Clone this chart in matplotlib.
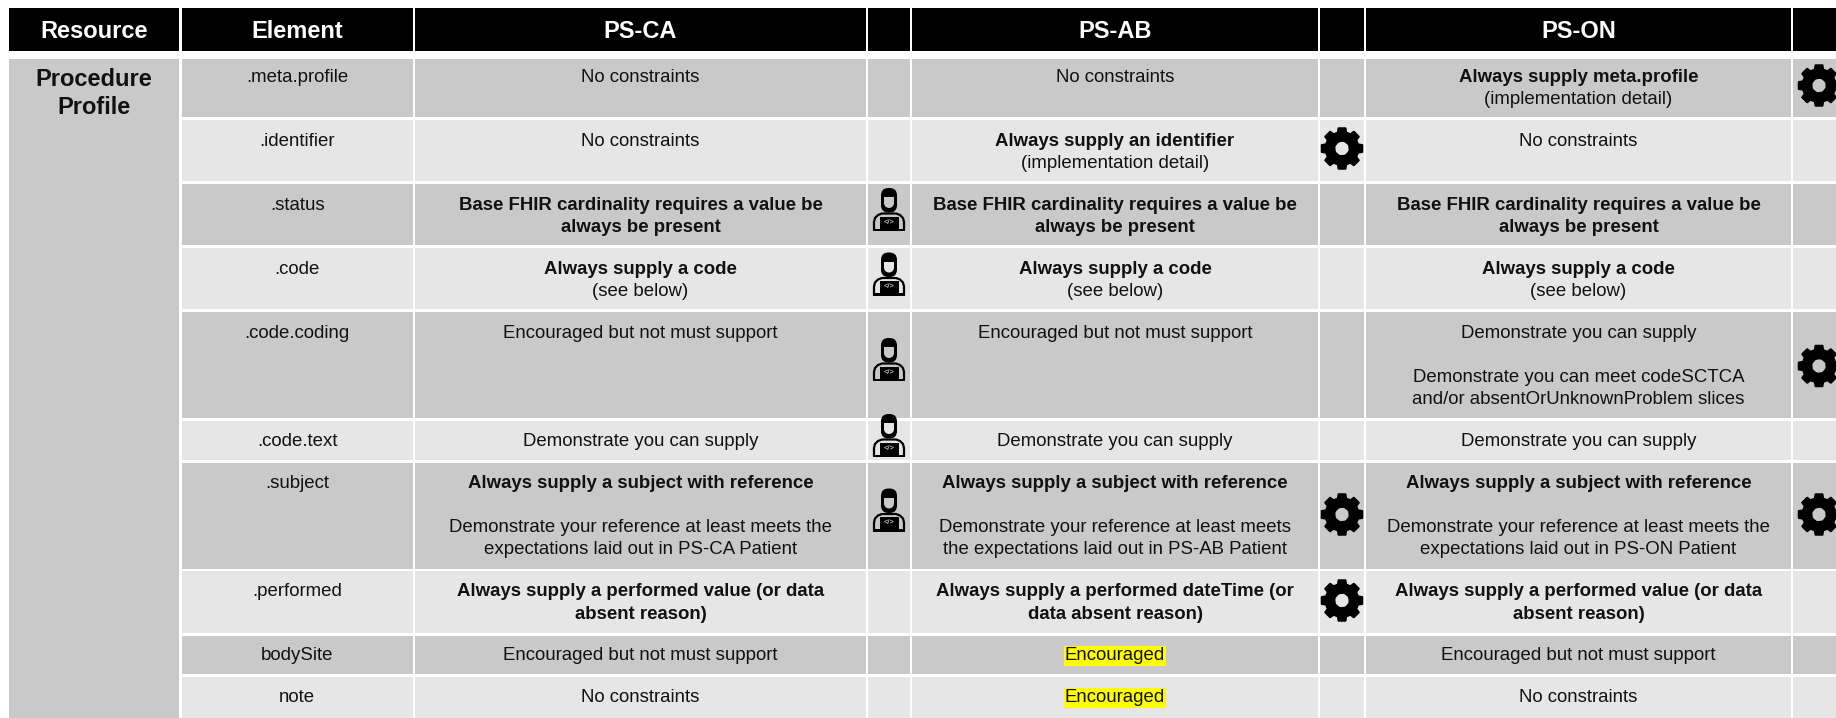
import matplotlib
matplotlib.use('Agg')
import matplotlib.pyplot as plt
from matplotlib.patches import Rectangle, Ellipse, FancyBboxPatch, PathPatch
from matplotlib.path import Path
import numpy as np

plt.rcParams['font.family'] = ['Liberation Sans', 'DejaVu Sans']

headers = ['Resource', 'Element', 'PS-CA', '', 'PS-AB', '', 'PS-ON', '']
resource = ['Procedure', 'Profile']
elements = ['.meta.profile', '.identifier', '.status', '.code', '.code.coding',
            '.code.text', '.subject', '.performed', 'bodySite', 'note']

NC = [('No constraints', 0)]
BASE = [('Base FHIR cardinality requires a value be', 1), ('always be present', 1)]
CODE = [('Always supply a code', 1), ('(see below)', 0)]
ENC = [('Encouraged but not must support', 0)]
DEMO = [('Demonstrate you can supply', 0)]
SUBJ = ('Always supply a subject with reference', 1)
BLANK = ('', 0)

ps_ca = [NC, NC, BASE, CODE, ENC, DEMO,
         [SUBJ, BLANK, ('Demonstrate your reference at least meets the', 0),
          ('expectations laid out in PS-CA Patient', 0)],
         [('Always supply a performed value (or data', 1), ('absent reason)', 1)],
         ENC, NC]
ps_ab = [NC,
         [('Always supply an identifier', 1), ('(implementation detail)', 0)],
         BASE, CODE, ENC, DEMO,
         [SUBJ, BLANK, ('Demonstrate your reference at least meets', 0),
          ('the expectations laid out in PS-AB Patient', 0)],
         [('Always supply a performed dateTime (or', 1), ('data absent reason)', 1)],
         [('Encouraged', 2)], [('Encouraged', 2)]]
ps_on = [[('Always supply meta.profile', 1), ('(implementation detail)', 0)],
         NC, BASE, CODE,
         [('Demonstrate you can supply', 0), BLANK,
          ('Demonstrate you can meet codeSCTCA', 0),
          ('and/or absentOrUnknownProblem slices', 0)],
         DEMO,
         [SUBJ, BLANK, ('Demonstrate your reference at least meets the', 0),
          ('expectations laid out in PS-ON Patient', 0)],
         [('Always supply a performed value (or data', 1), ('absent reason)', 1)],
         ENC, NC]

# rows that carry an icon in the narrow columns
person_rows = {2: 210, 3: 274.5, 4: 360, 5: 436, 6: 510.5}
gear_ab_rows = {1: 148.5, 6: 514.5, 7: 600.5}
gear_on_rows = {0: 85.5, 4: 366, 6: 514.5}

# layout in pixels
col_l = [9, 182, 415, 868, 912, 1320, 1366, 1793]
col_r = [179, 412.5, 866, 910, 1318, 1364, 1791, 1836]
row_t = [59, 120, 184, 248, 312, 421, 463, 571, 636, 677]
row_b = [117, 181, 245, 309, 418, 460, 569, 633, 674, 718]
first_line = [77, 141, 205, 269, 333, 441, 483, 592, 656, 698]
line_h = 22.2
dark = '#C9C9C9'
light = '#E6E6E6'
fs = 13.4
fs_head = 17

fig = plt.figure(figsize=(18.36, 7.18), dpi=100)
ax = fig.add_axes([0, 0, 1, 1])
ax.set_xlim(0, 1836)
ax.set_ylim(718, 0)
ax.axis('off')


def gear(cx, cy):
    r_out, r_in, r_hole = 20.5, 16.5, 7.6
    pts = []
    for i in range(8):
        a = -np.pi / 2 + i * np.pi / 4
        for da, r in [(-0.25, r_in), (-0.17, r_out), (0.17, r_out), (0.25, r_in)]:
            pts.append((cx + r * np.cos(a + da), cy + r * np.sin(a + da)))
    pts.append(pts[0])
    codes = [Path.MOVETO] + [Path.LINETO] * (len(pts) - 2) + [Path.CLOSEPOLY]
    hole = Path.circle((cx, cy), r_hole)
    hv = hole.vertices[::-1]
    path = Path(np.vstack([pts, hv]), codes + list(hole.codes))
    ax.add_patch(PathPatch(path, fc='black', ec='black', lw=1.5, joinstyle='round', zorder=3))


def person(cx, cy, bg):
    ax.add_patch(FancyBboxPatch((cx - 6.5, cy - 20.5), 13, 21.5, boxstyle='round,pad=1.5,rounding_size=7.5',
                                fc='black', ec='none', zorder=3))
    ax.add_patch(Rectangle((cx - 5, cy - 13), 10, 6, fc=bg, ec='none', zorder=4))
    ax.add_patch(Ellipse((cx, cy - 7), 10, 10, fc=bg, ec='none', zorder=4))
    ax.plot([cx - 15, cx - 15, cx - 14, cx - 11, cx - 7, cx + 7, cx + 11, cx + 14, cx + 15, cx + 15],
            [cy + 19, cy + 12, cy + 8, cy + 5, cy + 3.5, cy + 3.5, cy + 5, cy + 8, cy + 12, cy + 19],
            color='black', lw=1.6, zorder=3, solid_joinstyle='round')
    ax.add_patch(Rectangle((cx - 9.5, cy + 6.5), 19, 12.5, fc='black', ec='none', zorder=4))
    ax.add_patch(Rectangle((cx - 16, cy + 18.5), 32, 2.5, fc='black', ec='none', zorder=4))
    ax.text(cx, cy + 12.5, '</>', color='white', fontsize=5.5, ha='center', va='center', zorder=5)


def cell_text(cx, i, lines):
    for k, (s, kind) in enumerate(lines):
        if not s:
            continue
        box = None
        if kind == 2:
            box = dict(fc='#FFFF00', ec='none', pad=0.8)
        ax.text(cx, first_line[i] + k * line_h, s, ha='center', va='center', fontsize=fs,
                color='#111111', fontweight='bold' if kind == 1 else 'normal', bbox=box, zorder=3)


for l, r, h in zip(col_l, col_r, headers):
    ax.add_patch(Rectangle((l, 8), r - l, 43, fc='black', ec='none'))
    if h:
        ax.text((l + r) / 2, 32, h, color='white', fontsize=fs_head, fontweight='bold',
                ha='center', va='center')

ax.add_patch(Rectangle((col_l[0], row_t[0]), col_r[0] - col_l[0], 718 - row_t[0], fc=dark, ec='none'))
cx0 = (col_l[0] + col_r[0]) / 2
ax.text(cx0, 80, resource[0], fontsize=fs_head, fontweight='bold', color='#111111', ha='center', va='center')
ax.text(cx0, 108, resource[1], fontsize=fs_head, fontweight='bold', color='#111111', ha='center', va='center')

for i in range(len(elements)):
    bg = dark if i % 2 == 0 else light
    for l, r in zip(col_l[1:], col_r[1:]):
        ax.add_patch(Rectangle((l, row_t[i]), r - l, row_b[i] - row_t[i], fc=bg, ec='none'))
    cell_text((col_l[1] + col_r[1]) / 2, i, [(elements[i], 0)])
    cell_text((col_l[2] + col_r[2]) / 2, i, ps_ca[i])
    cell_text((col_l[4] + col_r[4]) / 2, i, ps_ab[i])
    cell_text((col_l[6] + col_r[6]) / 2, i, ps_on[i])
    if i in person_rows:
        person((col_l[3] + col_r[3]) / 2, person_rows[i], bg)
    if i in gear_ab_rows:
        gear((col_l[5] + col_r[5]) / 2, gear_ab_rows[i])
    if i in gear_on_rows:
        gear(1819, gear_on_rows[i])

fig.savefig('out.png', dpi=100, facecolor='white')
